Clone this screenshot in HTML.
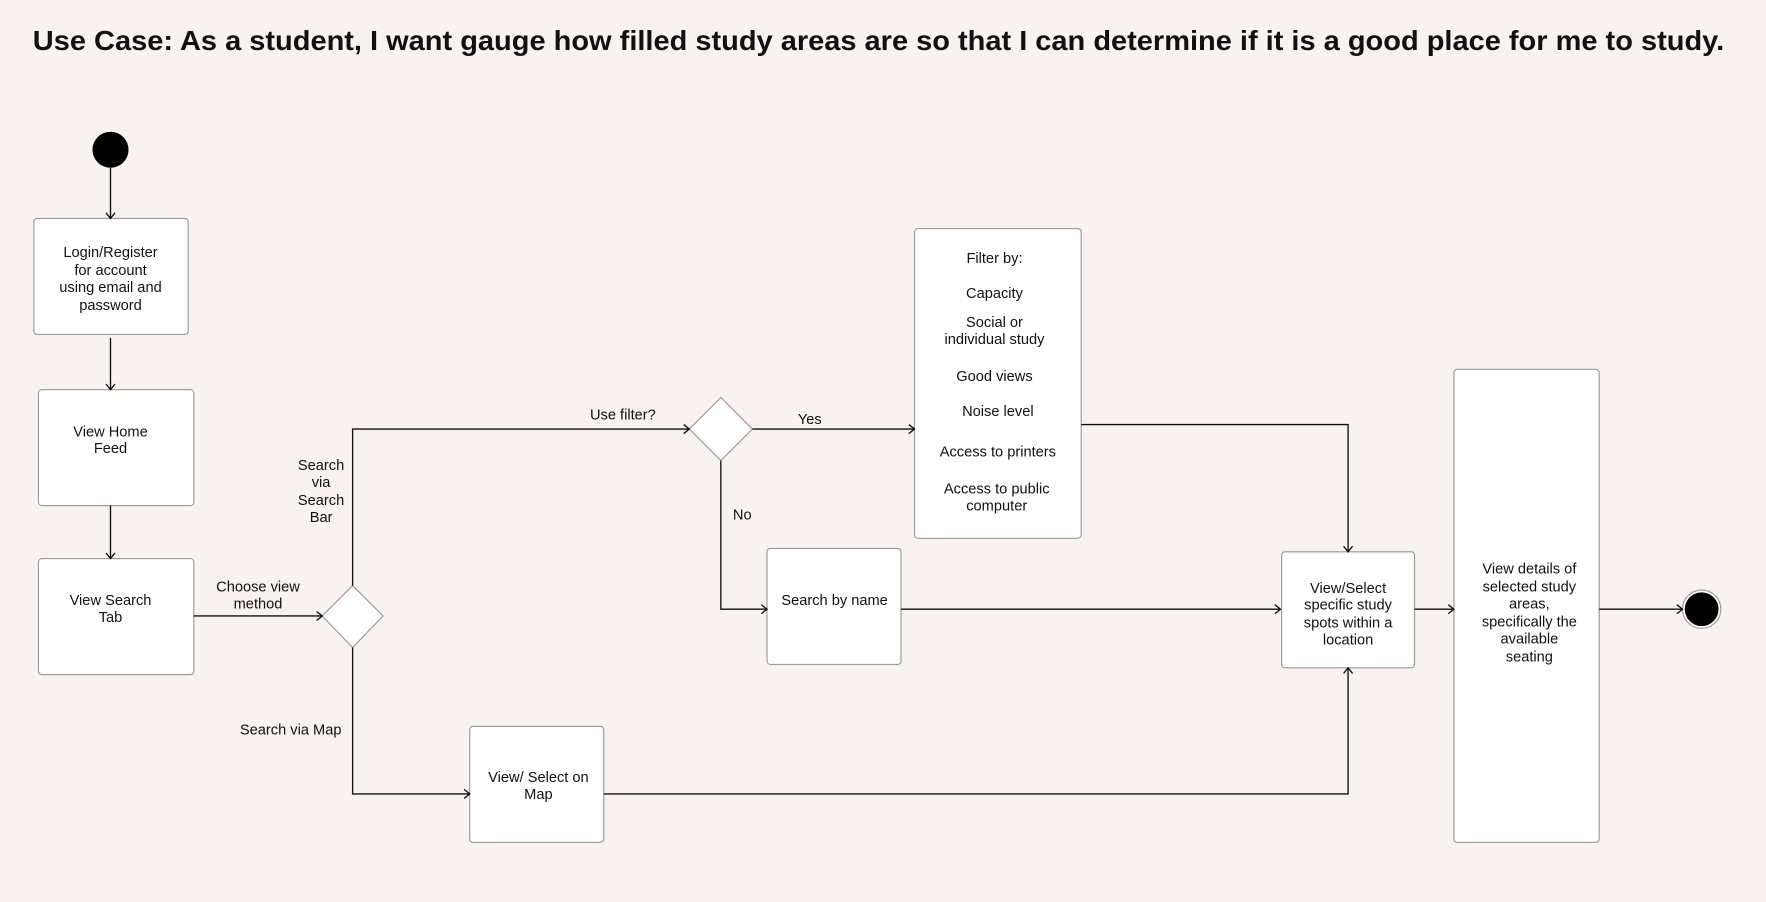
<!DOCTYPE html>
<html><head><meta charset="utf-8"><style>
html,body{margin:0;padding:0;background:#f8f2f1;}
svg{display:block}
text{font-family:"Liberation Sans",sans-serif;font-size:13px;fill:#111;text-anchor:middle;dominant-baseline:middle}
</style></head><body>
<svg width="1766" height="902" viewBox="0 0 1568 801" xmlns="http://www.w3.org/2000/svg">
<defs><marker id="a" markerWidth="10" markerHeight="10" refX="8" refY="5" orient="auto" markerUnits="userSpaceOnUse"><path d="M3,1 L8,5 L3,9" fill="none" stroke="#111" stroke-width="1.2"/></marker></defs>
<rect width="1568" height="801" fill="#f8f2f1"/>
<text x="29" y="38" style="font-size:25px;font-weight:bold;text-anchor:start" textLength="1502" lengthAdjust="spacingAndGlyphs">Use Case: As a student, I want gauge how filled study areas are so that I can determine if it is a good place for me to study.</text>
<g fill="#fff" stroke="#999" stroke-width="1">
<rect x="30" y="194" width="137" height="103" rx="3"/>
<rect x="34" y="346" width="138" height="103" rx="3"/>
<rect x="34" y="496" width="138" height="103" rx="3"/>
<rect x="812" y="203" width="148" height="275" rx="3"/>
<rect x="681" y="487" width="119" height="103" rx="3"/>
<rect x="417" y="645" width="119" height="103" rx="3"/>
<rect x="1138" y="490" width="118" height="103" rx="3"/>
<rect x="1291" y="328" width="129" height="420" rx="3"/>
<path d="M313,520 L340,547 L313,575 L286,547 Z"/>
<path d="M640,353 L668,381 L640,409 L612,381 Z"/>
</g>
<circle cx="98" cy="133" r="16" fill="#000"/>
<circle cx="1511" cy="541" r="17" fill="#fff" stroke="#999"/>
<circle cx="1511" cy="541" r="15" fill="#000"/>
<g fill="none" stroke="#111" stroke-width="1.2" marker-end="url(#a)">
<path d="M98,149 V194"/>
<path d="M98,300 V346"/>
<path d="M98,449 V496"/>
<path d="M172,547 H286"/>
<path d="M313,520 V381 H612"/>
<path d="M668,381 H812"/>
<path d="M640,409 V541 H681"/>
<path d="M960,377 H1197 V490"/>
<path d="M800,541 H1137"/>
<path d="M313,575 V705 H417"/>
<path d="M536,705 H1197 V593"/>
<path d="M1256,541 H1291"/>
<path d="M1420,541 H1494"/>
</g>
<text x="98" y="225">Login/Register</text><text x="98" y="241">for account</text><text x="98" y="256">using email and</text><text x="98" y="272">password</text>
<text x="98" y="384">View Home</text><text x="98" y="399">Feed</text>
<text x="98" y="534">View Search</text><text x="98" y="549">Tab</text>
<text x="229" y="522">Choose view</text><text x="229" y="537">method</text>
<text x="285" y="414">Search</text><text x="285" y="429">via</text><text x="285" y="445">Search</text><text x="285" y="460">Bar</text>
<text x="553" y="369">Use filter?</text>
<text x="719" y="373">Yes</text>
<text x="659" y="458">No</text>
<text x="883" y="230">Filter by:</text><text x="883" y="261">Capacity</text><text x="883" y="287">Social or</text><text x="883" y="302">individual study</text><text x="883" y="335">Good views</text><text x="886" y="366">Noise level</text><text x="886" y="402">Access to printers</text><text x="885" y="435">Access to public</text><text x="885" y="450">computer</text>
<text x="741" y="534">Search by name</text>
<text x="258" y="649">Search via Map</text>
<text x="478" y="691">View/ Select on</text><text x="478" y="706">Map</text>
<text x="1197" y="523">View/Select</text><text x="1197" y="538">specific study</text><text x="1197" y="554">spots within a</text><text x="1197" y="569">location</text>
<text x="1358" y="506">View details of</text><text x="1358" y="522">selected study</text><text x="1358" y="537">areas,</text><text x="1358" y="553">specifically the</text><text x="1358" y="568">available</text><text x="1358" y="584">seating</text>
</svg>
</body></html>
